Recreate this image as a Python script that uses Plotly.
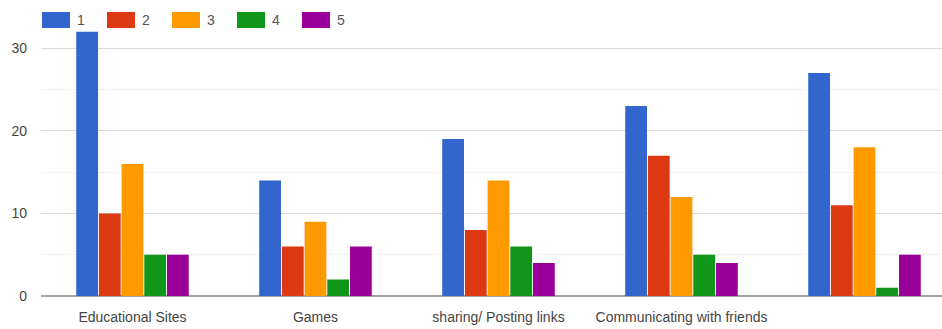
import plotly.graph_objects as go

categories = ["Educational Sites", "Games", "sharing/ Posting links", "Communicating with friends", ""]
series_names = ["1", "2", "3", "4", "5"]
series_values = [
    [32, 14, 19, 23, 27],
    [10, 6, 8, 17, 11],
    [16, 9, 14, 12, 18],
    [5, 2, 6, 5, 1],
    [5, 6, 4, 4, 5],
]
colors = ["#3366cc", "#dc3912", "#ff9900", "#109618", "#990099"]
y_ticks = [0, 10, 20, 30]

W, H = 942, 329
ML, MR, MT, MB = 41, 0, 7, 33
plot_w = W - ML - MR
plot_h = H - MT - MB
cat_px = 183.0

fig = go.Figure()
xs = list(range(len(categories)))
for name, vals, col in zip(series_names, series_values, colors):
    fig.add_trace(go.Bar(x=xs, y=vals, name=name, marker=dict(color=col, line=dict(width=0)),
                         showlegend=False))

# manual legend (large swatches like the original)
shapes = []
annotations = []
for i, (name, col) in enumerate(zip(series_names, colors)):
    px0 = 42 + 65 * i
    px1 = px0 + 28
    shapes.append(dict(type="rect", xref="paper", yref="paper",
                       x0=(px0 - ML) / plot_w, x1=(px1 - ML) / plot_w,
                       y0=(H - MB - 28) / plot_h, y1=(H - MB - 12) / plot_h,
                       fillcolor=col, line=dict(width=0), layer="above"))
    annotations.append(dict(xref="paper", yref="paper", x=(px1 + 5 - ML) / plot_w,
                            y=(H - MB - 20) / plot_h, text=name, showarrow=False,
                            xanchor="left", yanchor="middle",
                            font=dict(size=14, color="#555555")))

fig.update_layout(
    width=W, height=H,
    margin=dict(l=ML, r=MR, t=MT, b=MB, pad=0),
    paper_bgcolor="white", plot_bgcolor="white",
    font=dict(family="Liberation Sans, Arial, sans-serif", size=14, color="#444444"),
    barmode="group", bargap=0.38, bargroupgap=0.04,
    shapes=shapes, annotations=annotations,
    xaxis=dict(tickmode="array", tickvals=xs, ticktext=categories,
               range=[-0.5, -0.5 + plot_w / cat_px], showgrid=False, zeroline=False,
               showline=False, ticks="", tickfont=dict(size=14, color="#444444"),
               ticklabelstandoff=11, fixedrange=True),
    yaxis=dict(range=[0, 35], tickvals=y_ticks, showgrid=True, gridcolor="#d9d9d9",
               gridwidth=1, zeroline=True, zerolinecolor="#a0a0a0", zerolinewidth=2,
               showline=False, ticks="", tickfont=dict(size=14, color="#444444"),
               ticklabelstandoff=13,
               minor=dict(dtick=5, tick0=0, showgrid=True, gridcolor="#f0f0f0", gridwidth=1)),
)

fig.write_html("out.html")
